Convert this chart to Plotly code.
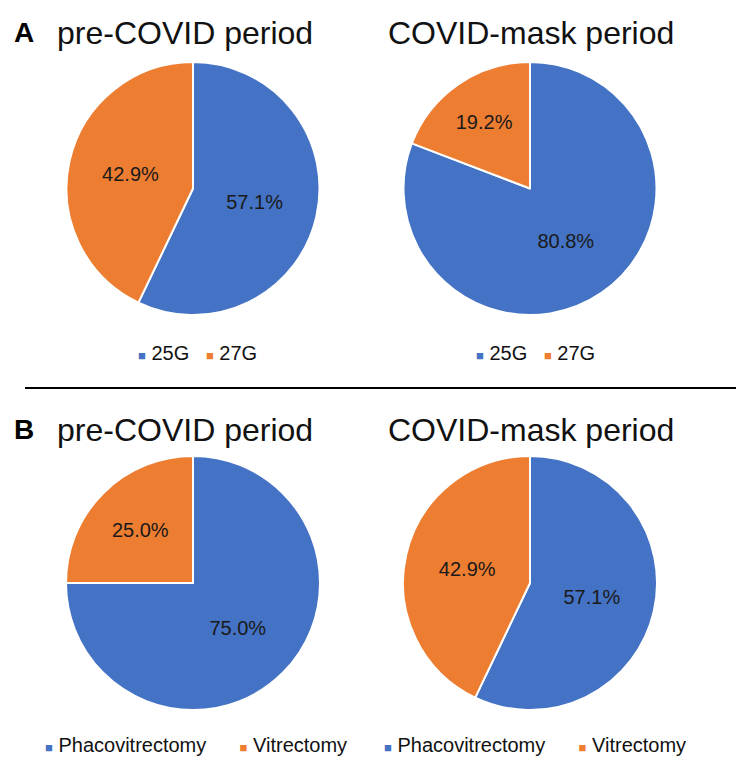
import plotly.graph_objects as go

# Page body has an 8px margin; figure is sized to fill the remaining window.
OFF = 8
W, H = 744 - OFF, 757 - OFF

labels_a = ["25G", "27G"]
a_pre = [57.1, 42.9]
a_mask = [80.8, 19.2]
labels_b = ["Phacovitrectomy", "Vitrectomy"]
b_pre = [75.0, 25.0]
b_mask = [57.1, 42.9]
titles = ["pre-COVID period", "COVID-mask period"]
panel_letters = ["A", "B"]
colors = ["#4472C4", "#ED7D31"]

FONT = "Liberation Sans, Arial, sans-serif"


def fx(sx):
    return (sx - OFF) / W


def fy(sy):
    return 1 - (sy - OFF) / H


def dom(x0, x1, y0, y1):
    return dict(x=[fx(x0), fx(x1)], y=[fy(y1), fy(y0)])


panels = [
    (labels_a, a_pre, dom(66, 320, 62, 315), 197, 353, 3),
    (labels_a, a_mask, dom(403, 657, 62, 315), 535, 353, 3),
    (labels_b, b_pre, dom(66, 320, 456, 710), 196, 745, 6),
    (labels_b, b_mask, dom(403, 657, 456, 710), 535, 745, 6),
]

fig = go.Figure()
annotations = []
for labels, vals, d, lx, ly, gap in panels:
    fig.add_trace(go.Pie(
        labels=labels, values=vals, domain=d, sort=False,
        direction="clockwise", rotation=0,
        marker=dict(colors=colors, line=dict(color="white", width=2)),
        texttemplate="%{value:.1f}%", textposition="inside",
        insidetextfont=dict(size=20, color="#1a1a1a", family=FONT),
        insidetextorientation="horizontal",
        showlegend=False, hoverinfo="label+value",
    ))
    parts = []
    for lab, col in zip(labels, colors):
        parts.append(f'<span style="color:{col};font-size:13px">■</span>\u00a0{lab}')
    legend_text = ("\u00a0" * gap).join(parts)
    annotations.append(dict(text=legend_text, x=fx(lx), y=fy(ly), xref="paper", yref="paper",
                            showarrow=False, xanchor="center", yanchor="middle",
                            font=dict(size=20, family=FONT, color="#111")))

for letter, yy in zip(panel_letters, (33, 430)):
    annotations.append(dict(text=titles[0], x=fx(185), y=fy(yy), xref="paper", yref="paper",
                            showarrow=False, xanchor="center", yanchor="middle",
                            font=dict(size=32, family=FONT, color="#111")))
    annotations.append(dict(text=titles[1], x=fx(531), y=fy(yy), xref="paper", yref="paper",
                            showarrow=False, xanchor="center", yanchor="middle",
                            font=dict(size=32, family=FONT, color="#111")))
    annotations.append(dict(text=f"<b>{letter}</b>", x=fx(24), y=fy(yy - 1), xref="paper", yref="paper",
                            showarrow=False, xanchor="center", yanchor="middle",
                            font=dict(size=28, family=FONT, color="#000")))

fig.update_layout(
    width=W, height=H, margin=dict(l=0, r=0, t=0, b=0),
    paper_bgcolor="white", plot_bgcolor="white",
    annotations=annotations,
    shapes=[dict(type="line", xref="paper", yref="paper", x0=fx(25), x1=1,
                 y0=fy(388), y1=fy(388), line=dict(color="black", width=2))],
)
fig.write_html("out.html")
